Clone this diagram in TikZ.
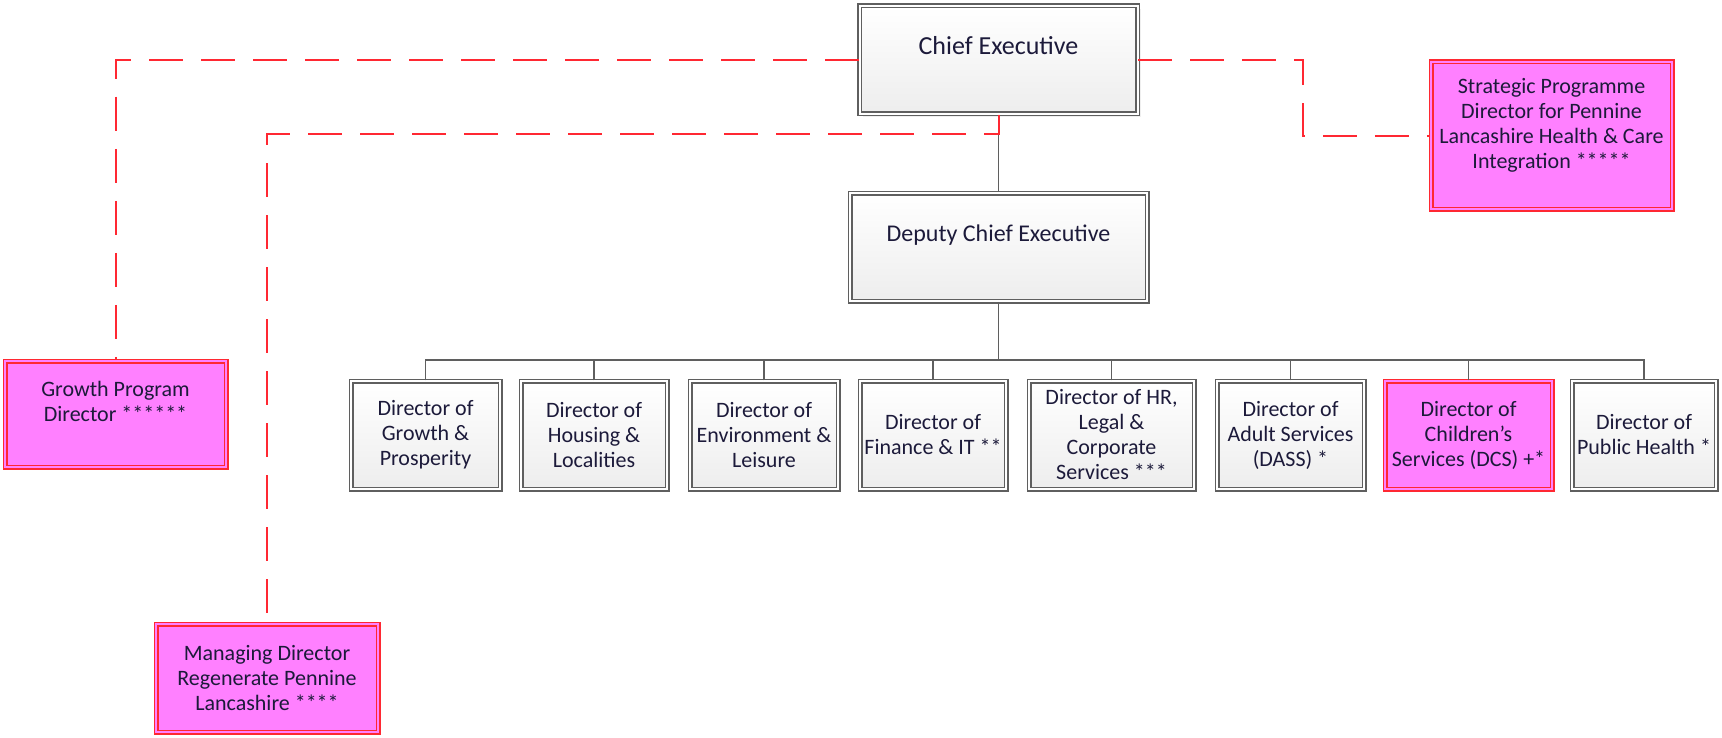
\documentclass[tikz,border=0pt]{standalone}
\usepackage{fontspec}
\setmainfont{Carlito}
\usetikzlibrary{positioning, shadows, calc}
\definecolor{inkblue}{RGB}{28,26,58}
\definecolor{linkred}{RGB}{255,40,50}
\definecolor{postpink}{RGB}{255,128,255}
\definecolor{postgrey}{RGB}{95,95,95}

\begin{document}
\begin{tikzpicture}[x=0.5pt, y=-0.5pt,
    base/.style={double, line width=0.75pt, double distance=1pt, text=inkblue,
      align=center, inner sep=0pt, font=\fontsize{11}{12.5}\selectfont,
      drop shadow={shadow xshift=1.5pt, shadow yshift=-1.5pt, fill=black!12}},
    post/.style={base, draw=postgrey, double=white, top color=white, bottom color=black!7},
    keypost/.style={base, draw=linkred, double=postpink, fill=postpink},
    dir/.style={post, minimum height=54pt},
    link/.style={draw=postgrey, line width=0.6pt},
    dashlink/.style={draw=linkred, line width=1pt, dash pattern=on 17pt off 9pt}]
  \useasboundingbox (0,0) rectangle (1722,738);

  % top of the tree
  \node[post, minimum width=139pt, minimum height=54pt, font=\fontsize{13}{15}\selectfont]
    (chief) at (998.5,60) {Chief Executive\\\mbox{}};
  \node[post, minimum width=148.5pt, minimum height=54pt, font=\fontsize{12}{14}\selectfont]
    (deputy) at (998.5,247) {Deputy Chief Executive\\\mbox{}};

  % directors
  \node[dir, minimum width=74.5pt] (d1) at (425.5,435) {Director of\\Growth \&\\Prosperity};
  \node[dir, minimum width=73pt] (d2) at (594,435) {Director of\\Housing \&\\Localities};
  \node[dir, minimum width=74pt] (d3) at (764,435) {Director of\\Environment \&\\Leisure};
  \node[dir, minimum width=73pt] (d4) at (933,435) {Director of\\Finance \& IT **};
  \node[dir, minimum width=82.5pt] (d5) at (1111.5,435) {Director of HR,\\Legal \&\\Corporate\\Services ***};
  \node[dir, minimum width=73.5pt] (d6) at (1290.5,435) {Director of\\Adult Services\\(DASS) *};
  \node[keypost, minimum width=83.5pt, minimum height=54pt] (d7) at (1468.5,435) {Director of\\Children’s\\Services (DCS) +*};
  \node[dir, minimum width=72pt] (d8) at (1644,435) {Director of\\Public Health *};

  % posts outside the tree
  \node[keypost, minimum width=120.5pt, minimum height=73.5pt] (strat) at (1551.5,135.5)
    {Strategic Programme\\Director for Pennine\\Lancashire Health \& Care\\Integration *****\\\mbox{}};
  \node[keypost, minimum width=110.5pt, minimum height=53pt] (growth) at (115.5,414)
    {Growth Program\\Director ******\\\mbox{}};
  \node[keypost, minimum width=111pt, minimum height=54pt] (managing) at (267,678)
    {Managing Director\\Regenerate Pennine\\Lancashire ****};

  % solid lines
  \coordinate (bus) at (998.5,360);
  \draw[link] (chief) -- (deputy);
  \draw[link] (deputy) -- (bus);
  \draw[link] (d1.north) -- (d1.north |- bus) -- (d8.north |- bus) -- (d8.north);
  \foreach \d in {d2,d3,d4,d5,d6,d7}
    \draw[link] (\d.north) -- (\d.north |- bus);

  % dashed lines
  \coordinate (split) at (998.5,134);
  \coordinate (turn) at (1303,60);
  \draw[dashlink] (chief.west) -| (growth.north);
  \draw[dashlink] (chief.south) -- (split) -| (managing.north);
  \draw[dashlink] (chief.east) -- (turn) |- (strat.west);
\end{tikzpicture}
\end{document}
